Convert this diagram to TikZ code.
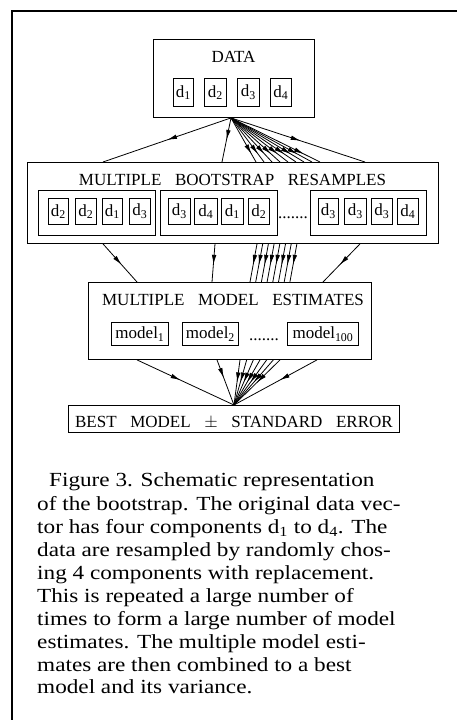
\documentclass[tikz,border=0pt]{standalone}
\usepackage{fontspec}
\setmainfont{Liberation Serif}
\newfontfamily\capfont[FakeStretch=1.16]{Liberation Serif}
\usetikzlibrary{arrows.meta,decorations.markings,calc}
\tikzset{
  box/.style={draw, line width=0.9pt, inner sep=0pt, anchor=north west, font=\fontsize{17}{20}\selectfont},
  head/.style={inner sep=0pt, anchor=base, font=\fontsize{17}{20}\selectfont},
  capline/.style={inner sep=0pt, anchor=base west, font=\capfont\fontsize{20}{23}\selectfont},
  conn/.style={line width=0.8pt},
  midarrow/.style={decoration={markings, mark=at position #1 with {\arrow{Latex[length=10pt,width=4.5pt]}}}, postaction={decorate}},
}
\newcommand\wsp{\hspace{0.8em}}
\begin{document}
\begin{tikzpicture}[x=1pt,y=-1pt]
\useasboundingbox (0,0) rectangle (457,720);
% frame
\draw[line width=2.5pt] (12,720) -- (12,11) -- (457,11);

% DATA
\node[box, minimum width=161, minimum height=78] (data) at (153,39) {};
\node[head] (dataT) at (233.5,62) {DATA};
\node[box, minimum width=20, minimum height=28] (d1) at (173,78) {d\textsubscript{1}};
\node[box, minimum width=22, minimum height=28] (d2) at (204,78) {d\textsubscript{2}};
\node[box, minimum width=22, minimum height=28] (d3) at (237,78) {d\textsubscript{3}};
\node[box, minimum width=21, minimum height=28] (d4) at (270,78) {d\textsubscript{4}};

% BOOTSTRAP
\node[box, minimum width=411, minimum height=81] (boot) at (27,162) {};
\node[head] (bootT) at (232.5,185) {MULTIPLE\wsp BOOTSTRAP\wsp RESAMPLES};
\node[box, minimum width=117, minimum height=45] (g1) at (38,190) {};
\node[box, minimum width=117, minimum height=45] (g2) at (160,190) {};
\node[box, minimum width=116, minimum height=45] (g3) at (310,190) {};
\node[box, minimum width=20, minimum height=26] (a1) at (48,198) {d\textsubscript{2}};
\node[box, minimum width=21, minimum height=26] (a2) at (75,198) {d\textsubscript{2}};
\node[box, minimum width=20, minimum height=26] (a3) at (102,198) {d\textsubscript{1}};
\node[box, minimum width=21, minimum height=26] (a4) at (129,198) {d\textsubscript{3}};
\node[box, minimum width=22, minimum height=26] (b1) at (168,198) {d\textsubscript{3}};
\node[box, minimum width=23, minimum height=26] (b2) at (194,198) {d\textsubscript{4}};
\node[box, minimum width=22, minimum height=26] (b3) at (221,198) {d\textsubscript{1}};
\node[box, minimum width=21, minimum height=26] (b4) at (248,198) {d\textsubscript{2}};
\node[head] (bdots) at (293,218) {.......};
\node[box, minimum width=20, minimum height=26] (c1) at (318,198) {d\textsubscript{3}};
\node[box, minimum width=22, minimum height=26] (c2) at (344,198) {d\textsubscript{3}};
\node[box, minimum width=21, minimum height=26] (c3) at (371,198) {d\textsubscript{3}};
\node[box, minimum width=21, minimum height=26] (c4) at (397,198) {d\textsubscript{4}};

% MODEL ESTIMATES
\node[box, minimum width=283, minimum height=77] (model) at (88,282) {};
\node[head] (modelT) at (233,305) {MULTIPLE\wsp MODEL\wsp ESTIMATES};
\node[box, minimum width=57, minimum height=23] (m1) at (111,322) {model\textsubscript{1}};
\node[box, minimum width=56, minimum height=23] (m2) at (182,322) {model\textsubscript{2}};
\node[head] (mdots) at (264,340) {.......};
\node[box, minimum width=71, minimum height=23] (m100) at (287,322) {model\textsubscript{100}};

% BEST
\node[box, minimum width=331, minimum height=27, text height=22pt, text depth=5pt] (best) at (68,405) {BEST\wsp MODEL\wsp $\pm$\wsp STANDARD\wsp ERROR};

% arrows DATA -> BOOTSTRAP
\draw[conn, midarrow=0.5] ($(data.south west)+(78,0)$) -- ($(boot.north west)+(76,0)$);
\draw[conn, midarrow=0.5] ($(data.south west)+(78,0)$) -- ($(boot.north west)+(195,0)$);
\foreach \x in {229,237,...,293}
  \draw[conn, midarrow=0.82] ($(data.south west)+(78,0)$) -- ($(boot.north west)+(\x,0)$);
\draw[conn, midarrow=0.52] ($(data.south west)+(78,0)$) -- ($(boot.north west)+(338,0)$);

% arrows BOOTSTRAP -> MODEL
\draw[conn, midarrow=0.55] ($(boot.south west)+(76,0)$) -- ($(model.north west)+(49,0)$);
\draw[conn, midarrow=0.55] ($(boot.south west)+(188,0)$) -- ($(model.north west)+(124,0)$);
\foreach \k in {0,...,7}
  \draw[conn, midarrow=0.55] ($(boot.south west)+(230+5.7*\k,0)$) -- ($(model.north west)+(162+5.7*\k,0)$);
\draw[conn, midarrow=0.55] ($(boot.south west)+(333,0)$) -- ($(model.north west)+(235,0)$);

% arrows MODEL -> BEST
\draw[conn, midarrow=0.45] ($(model.south west)+(49,0)$) -- (best.north);
\draw[conn, midarrow=0.4] ($(model.south west)+(129,0)$) -- (best.north);
\foreach \k in {0,...,6}
  \draw[conn, midarrow=0.5] ($(model.south west)+(152+6.67*\k,0)$) -- (best.north);
\draw[conn, midarrow=0.45] ($(model.south west)+(229,0)$) -- (best.north);

% caption
\node[capline] (l0) at (49,486) {Figure 3. Schematic representation};
\node[capline] (l1) at (37,510) {of the bootstrap. The original data vec-};
\node[capline] (l2) at (37,533) {tor has four components d\textsubscript{1} to d\textsubscript{4}. The};
\node[capline] (l3) at (37,556) {data are resampled by randomly chos-};
\node[capline] (l4) at (37,579) {ing 4 components with replacement.};
\node[capline] (l5) at (37,602) {This is repeated a large number of};
\node[capline] (l6) at (37,625) {times to form a large number of model};
\node[capline] (l7) at (37,648) {estimates. The multiple model esti-};
\node[capline] (l8) at (37,671) {mates are then combined to a best};
\node[capline] (l9) at (37,693) {model and its variance.};
\end{tikzpicture}
\end{document}
